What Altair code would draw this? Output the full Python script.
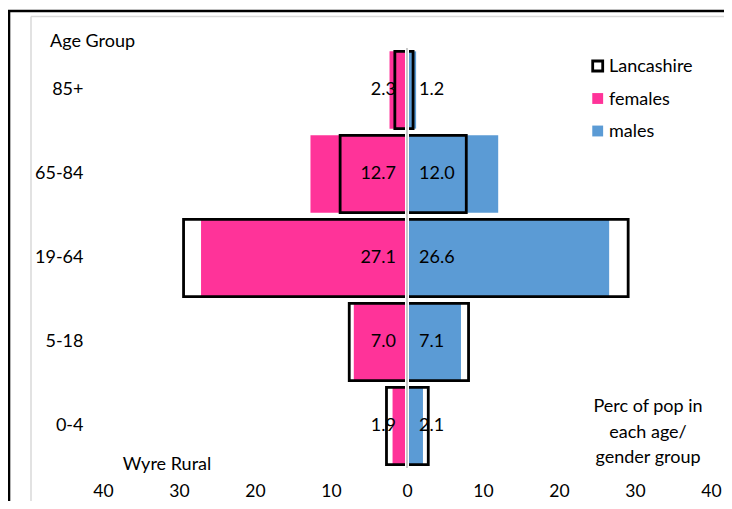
import altair as alt
import pandas as pd

# ---- data ----
ages = ["85+", "65-84", "19-64", "5-18", "0-4"]
wyre_females = [2.3, 12.7, 27.1, 7.0, 1.9]
wyre_males = [1.2, 12.0, 26.6, 7.1, 2.1]
lancs_females = [1.6, 8.8, 29.4, 7.6, 2.7]
lancs_males = [0.8, 7.8, 29.1, 8.1, 2.8]
x_ticks = [-40, -30, -20, -10, 0, 10, 20, 30, 40]

PINK = "#FF3399"
BLUE = "#5B9BD5"
FONT = "Lato"
FS = 18

wyre = pd.DataFrame(
    {"age": ages * 2,
     "sex": ["females"] * 5 + ["males"] * 5,
     "value": [-v for v in wyre_females] + wyre_males,
     "label": [f"{v:.1f}" for v in wyre_females] + [f"{v:.1f}" for v in wyre_males]}
)
lancs = pd.DataFrame(
    {"age": ages * 2,
     "sex": ["females"] * 5 + ["males"] * 5,
     "value": [-v for v in lancs_females] + lancs_males}
)

x_scale = alt.Scale(domain=[-40, 40], nice=False, zero=False)
y_enc = alt.Y(
    "age:N", sort=ages,
    scale=alt.Scale(paddingInner=0.08, paddingOuter=0.04),
    axis=alt.Axis(title=None, domain=False, ticks=False, labelPadding=20,
                  labelFontSize=FS, labelFont=FONT, labelColor="black"),
)
x_enc = alt.X(
    "value:Q", scale=x_scale,
    axis=alt.Axis(title=None, domain=False, ticks=False, grid=False,
                  values=x_ticks, labelExpr="abs(datum.value)", labelFlush=False,
                  labelFontSize=17.5, labelFont=FONT, labelColor="black",
                  labelPadding=23, labelBaseline="middle"),
)

bars = alt.Chart(wyre).mark_bar().encode(
    x=x_enc, y=y_enc,
    color=alt.Color("sex:N", scale=alt.Scale(domain=["females", "males"], range=[PINK, BLUE]), legend=None),
)

boxes = alt.Chart(lancs).mark_bar(fillOpacity=0, stroke="black", strokeWidth=2.8).encode(
    x=alt.X("value:Q", scale=x_scale), y=alt.Y("age:N", sort=ages)
)

zero_df = pd.DataFrame({"z": [0]})
zero_white = alt.Chart(zero_df).mark_rule(color="white", strokeWidth=4).encode(
    x=alt.X("z:Q", scale=x_scale), y=alt.value(0), y2=alt.value(420)
)
zero_line = alt.Chart(zero_df).mark_rule(color="#A6A6A6", strokeWidth=1.2).encode(
    x=alt.X("z:Q", scale=x_scale), y=alt.value(0), y2=alt.value(420)
)

fem_labels = alt.Chart(wyre[wyre.sex == "females"]).mark_text(
    align="right", baseline="middle", dx=-11, fontSize=FS, font=FONT, color="black"
).encode(x=alt.X("z:Q", scale=x_scale), y=alt.Y("age:N", sort=ages), text="label:N").transform_calculate(z="0")

male_labels = alt.Chart(wyre[wyre.sex == "males"]).mark_text(
    align="left", baseline="middle", dx=12, fontSize=FS, font=FONT, color="black"
).encode(x=alt.X("z:Q", scale=x_scale), y=alt.Y("age:N", sort=ages), text="label:N").transform_calculate(z="0")


def note(txt, x, y, align="left", **kw):
    return alt.Chart(pd.DataFrame({"t": [txt]})).mark_text(
        align=align, baseline="middle", fontSize=FS, font=FONT, color="black", **kw
    ).encode(text="t:N", x=alt.value(x), y=alt.value(y))


age_title = note("Age Group", -53, -6)
wyre_title = note("Wyre Rural", 64, 417, align="center")
perc_title = note("Perc of pop in\neach age/\ngender group", 545, 359, align="center",
                  lineBreak="\n", lineHeight=25.5)

# legend
leg_items = ["Lancashire", "females", "males"]
leg_y = [18, 50.5, 83]
leg_lanc = alt.Chart(pd.DataFrame({"k": [leg_items[0]]})).mark_square(
    size=100, filled=False, stroke="black", strokeWidth=2.8, opacity=1
).encode(x=alt.value(494.7), y=alt.value(leg_y[0]))
leg_f = alt.Chart(pd.DataFrame({"k": [leg_items[1]]})).mark_square(
    size=118, color=PINK, opacity=1
).encode(x=alt.value(494.7), y=alt.value(leg_y[1]))
leg_m = alt.Chart(pd.DataFrame({"k": [leg_items[2]]})).mark_square(
    size=118, color=BLUE, opacity=1
).encode(x=alt.value(494.7), y=alt.value(leg_y[2]))
leg_texts = [note(t, 506, y + 1) for t, y in zip(leg_items, leg_y)]

# frame lines
one = pd.DataFrame({"a": [0]})
top_black = alt.Chart(one).mark_rule(color="black", strokeWidth=2.6).encode(
    x=alt.value(-95), x2=alt.value(621), y=alt.value(-37))
left_black = alt.Chart(one).mark_rule(color="black", strokeWidth=2.6).encode(
    x=alt.value(-94), y=alt.value(-38), y2=alt.value(453))
top_gray = alt.Chart(one).mark_rule(color="#D9D9D9", strokeWidth=1.5).encode(
    x=alt.value(-72), x2=alt.value(621), y=alt.value(-31.5))
left_gray = alt.Chart(one).mark_rule(color="#D9D9D9", strokeWidth=1.5).encode(
    x=alt.value(-72), y=alt.value(-31.5), y2=alt.value(453))

chart = alt.layer(
    top_gray, left_gray, top_black, left_black,
    bars, boxes, zero_white, zero_line, fem_labels, male_labels,
    age_title, wyre_title, perc_title,
    leg_lanc, leg_f, leg_m, *leg_texts,
).properties(
    width=608, height=420,
    autosize=alt.AutoSizeParams(type="none"),
    padding={"left": 95, "top": 40, "right": 13, "bottom": 33},
    background="white",
).configure_view(stroke=None)

chart.save("out.html", embed_options={"renderer": "svg", "actions": False})
